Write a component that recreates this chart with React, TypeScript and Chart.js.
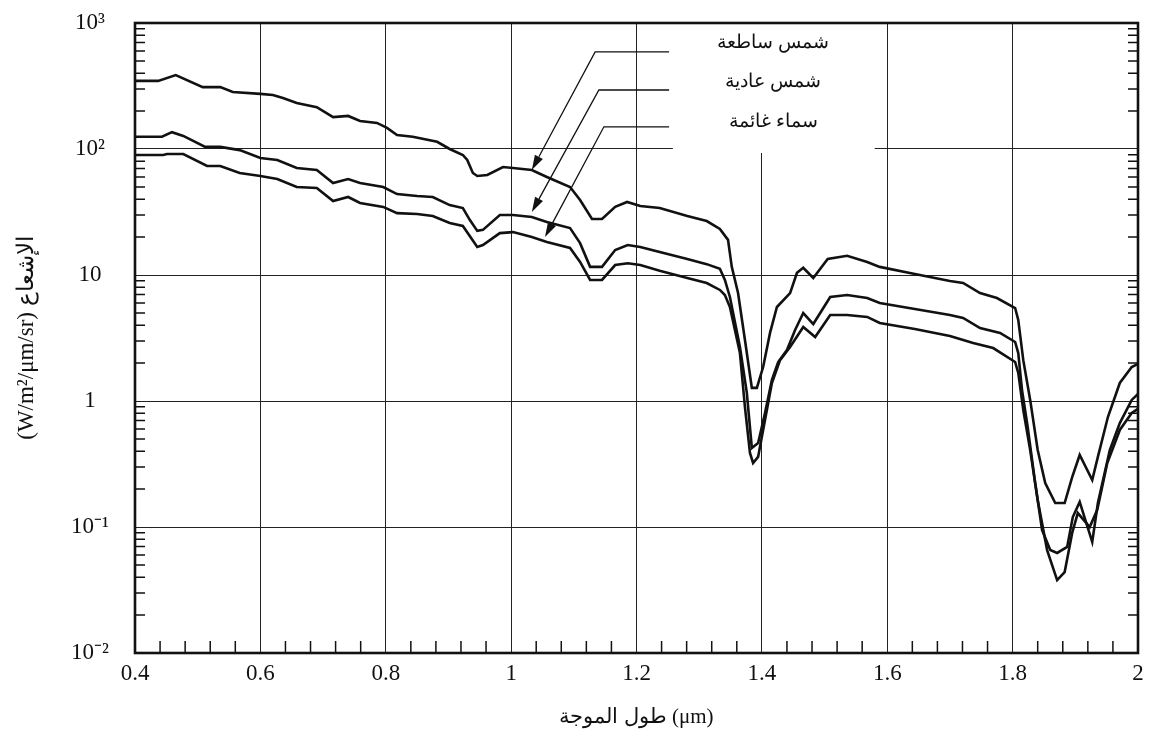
import React, { useEffect, useRef } from "react";
import { Chart, registerables } from "chart.js";

Chart.register(...registerables);

// ---- data (wavelength in µm, radiance in W/m²/µm/sr) ----
const brightX = [0.400,0.437,0.465,0.508,0.536,0.556,0.600,0.620,0.636,0.658,0.690,0.716,0.740,0.759,0.786,0.802,0.818,0.843,0.882,0.902,0.923,0.930,0.939,0.946,0.962,0.987,1.003,1.033,1.057,1.094,1.110,1.129,1.145,1.166,1.185,1.206,1.237,1.281,1.312,1.333,1.346,1.352,1.362,1.373,1.384,1.392,1.402,1.413,1.424,1.445,1.456,1.466,1.482,1.505,1.536,1.568,1.588,1.644,1.700,1.721,1.748,1.775,1.804,1.809,1.817,1.828,1.840,1.852,1.868,1.883,1.895,1.907,1.927,1.936,1.952,1.971,1.990,2.000];
const brightY = [347,347,386,310,310,283,274,268,254,232,215,179,183,167,161,147,129,125,114,100,89.6,81.9,64.5,61.1,62.2,72.0,70.6,68.1,60,49.9,39.4,27.8,27.8,34.7,38.0,35.3,34.0,29.4,26.8,23.2,19.0,11.6,7.19,3.05,1.27,1.27,1.86,3.47,5.57,7.19,10.4,11.4,9.47,13.4,14.2,12.7,11.6,10.2,8.96,8.64,7.19,6.57,5.47,4.40,2.11,1.02,0.408,0.223,0.155,0.155,0.249,0.373,0.236,0.360,0.746,1.39,1.86,1.97];

const normalX = [0.400,0.443,0.459,0.477,0.512,0.536,0.567,0.600,0.627,0.658,0.690,0.716,0.740,0.759,0.796,0.818,0.850,0.875,0.902,0.923,0.934,0.946,0.955,0.982,1.003,1.033,1.057,1.094,1.110,1.126,1.145,1.166,1.186,1.206,1.237,1.281,1.312,1.333,1.341,1.349,1.365,1.376,1.384,1.394,1.405,1.416,1.426,1.440,1.453,1.466,1.482,1.509,1.536,1.568,1.588,1.644,1.700,1.721,1.748,1.780,1.804,1.809,1.815,1.824,1.836,1.847,1.860,1.871,1.887,1.896,1.907,1.927,1.936,1.955,1.971,1.990,2.000];
const normalY = [125,125,136,127,104,104,98,84.9,81.9,70.7,68.1,53.7,57.8,53.7,49.9,43.9,42.4,41.6,35.9,34.0,27.4,22.4,22.8,29.9,29.9,28.9,26.3,23.6,17.9,11.6,11.6,15.8,17.3,16.7,15.2,13.4,12.2,11.2,9.13,6.69,2.68,1.16,0.424,0.464,0.803,1.47,2.04,2.54,3.66,4.99,4.08,6.69,6.93,6.57,5.99,5.37,4.82,4.56,3.79,3.47,2.94,2.40,1.22,0.622,0.223,0.0946,0.0656,0.0622,0.0694,0.120,0.158,0.0760,0.155,0.408,0.668,1.02,1.14];

const cloudyX = [0.400,0.445,0.451,0.477,0.515,0.536,0.567,0.600,0.627,0.658,0.690,0.716,0.740,0.759,0.796,0.818,0.850,0.875,0.902,0.923,0.934,0.946,0.955,0.982,1.003,1.033,1.057,1.094,1.110,1.126,1.145,1.166,1.186,1.206,1.237,1.281,1.312,1.333,1.341,1.349,1.365,1.373,1.381,1.386,1.394,1.405,1.416,1.429,1.445,1.466,1.485,1.509,1.536,1.568,1.588,1.644,1.700,1.737,1.769,1.804,1.809,1.817,1.828,1.840,1.855,1.871,1.883,1.895,1.904,1.923,1.935,1.951,1.971,1.990,2.000];
const cloudyY = [89.6,89.6,91.2,91.2,73.3,73.3,64.5,61.1,57.8,49.9,49.0,38.6,41.6,37.3,34.7,31.0,30.5,29.4,25.9,24.5,20.4,16.7,17.3,21.5,21.9,20.0,18.3,16.4,12.7,9.13,9.13,12.0,12.4,12.0,10.8,9.47,8.64,7.61,6.93,5.57,2.40,0.896,0.387,0.322,0.360,0.706,1.39,2.11,2.68,3.87,3.22,4.82,4.82,4.65,4.16,3.73,3.28,2.88,2.63,2.04,1.67,0.849,0.408,0.164,0.0656,0.0379,0.0439,0.0896,0.129,0.100,0.137,0.322,0.589,0.803,0.865];

const seriesNames = ["شمس ساطعة", "شمس عادية", "سماء غائمة"];

// ---- axes ----
const xTicks = [0.4, 0.6, 0.8, 1.0, 1.2, 1.4, 1.6, 1.8, 2.0];
const xTickLabels = ["0.4", "0.6", "0.8", "1", "1.2", "1.4", "1.6", "1.8", "2"];
const yTicks = [0.01, 0.1, 1, 10, 100, 1000];
const yTickLabels = ["10⁻²", "10⁻¹", "1", "10", "10²", "10³"];
const xTitle = "طول الموجة (μm)";
const yTitle = "(W/m²/μm/sr) الإشعاع";

// ---- annotation (in data units) ----
const leaderStartX = [1.252, 1.252, 1.252];
const leaderBendX = [1.134, 1.140, 1.148];
const leaderY = [589, 294, 150];
const arrowTipX = [1.033, 1.033, 1.054];
const arrowTipY = [68.1, 31.6, 20.0];
const labelX = 1.418;
const labelY = [693, 340, 164];
const legendBoxX = [1.258, 1.580];
const legendBoxBottom = 93;

const SERIF = '"Liberation Serif", "Times New Roman", serif';
const INK = "#111";

const decorPlugin = {
  id: "decor",
  beforeDatasetsDraw(chart: any) {
    const { ctx, scales, chartArea } = chart;
    const x = scales.x, y = scales.y;
    const x0 = x.getPixelForValue(legendBoxX[0]);
    const x1 = x.getPixelForValue(legendBoxX[1]);
    const y1 = y.getPixelForValue(legendBoxBottom);
    ctx.save();
    ctx.fillStyle = "#fff";
    ctx.fillRect(x0, chartArea.top, x1 - x0, y1 - chartArea.top);
    ctx.restore();
  },
  afterDatasetsDraw(chart: any) {
    const { ctx, scales, chartArea } = chart;
    const x = scales.x, y = scales.y;
    ctx.save();
    ctx.strokeStyle = INK;
    ctx.fillStyle = INK;
    for (let i = 0; i < 3; i++) {
      const sx = x.getPixelForValue(leaderStartX[i]);
      const bx = x.getPixelForValue(leaderBendX[i]);
      const ly = y.getPixelForValue(leaderY[i]);
      const tx = x.getPixelForValue(arrowTipX[i]);
      const ty = y.getPixelForValue(arrowTipY[i]);
      const ang = Math.atan2(ty - ly, tx - bx);
      const L = 15, W = 4.5;
      const baseX = tx - L * Math.cos(ang);
      const baseY = ty - L * Math.sin(ang);
      ctx.lineWidth = 1.3;
      ctx.beginPath();
      ctx.moveTo(sx, ly);
      ctx.lineTo(bx, ly);
      ctx.lineTo(baseX, baseY);
      ctx.stroke();
      ctx.beginPath();
      ctx.moveTo(tx, ty);
      ctx.lineTo(baseX + W * Math.sin(ang), baseY - W * Math.cos(ang));
      ctx.lineTo(baseX - W * Math.sin(ang), baseY + W * Math.cos(ang));
      ctx.closePath();
      ctx.fill();
      ctx.font = `19px ${SERIF}`;
      ctx.textAlign = "center";
      ctx.textBaseline = "middle";
      ctx.fillText(seriesNames[i], x.getPixelForValue(labelX), y.getPixelForValue(labelY[i]));
    }
    // minor ticks
    ctx.lineWidth = 1.5;
    ctx.beginPath();
    for (let k = -2; k < 3; k++) {
      for (let m = 2; m < 10; m++) {
        const py = y.getPixelForValue(m * Math.pow(10, k));
        ctx.moveTo(chartArea.left, py);
        ctx.lineTo(chartArea.left + 10, py);
        ctx.moveTo(chartArea.right, py);
        ctx.lineTo(chartArea.right - 10, py);
      }
    }
    for (let j = 0; j <= 40; j++) {
      if (j % 5 === 0) continue;
      const px = x.getPixelForValue(0.4 + j * 0.04);
      ctx.moveTo(px, chartArea.bottom);
      ctx.lineTo(px, chartArea.bottom - 12);
    }
    ctx.stroke();
    // frame
    ctx.lineWidth = 2.6;
    ctx.strokeRect(chartArea.left, chartArea.top, chartArea.right - chartArea.left, chartArea.bottom - chartArea.top);
    ctx.restore();
  },
};

export default function App() {
  const ref = useRef<HTMLCanvasElement | null>(null);
  useEffect(() => {
    document.body.style.margin = "0";
    const mk = (xs: number[], ys: number[]) => xs.map((v, i) => ({ x: v, y: ys[i] }));
    const line = (label: string, data: any) => ({
      label,
      data,
      borderColor: INK,
      borderWidth: 2.6,
      pointRadius: 0,
      tension: 0,
      fill: false,
    });
    const chart = new Chart(ref.current as HTMLCanvasElement, {
      type: "line",
      data: {
        datasets: [
          line(seriesNames[0], mk(brightX, brightY)),
          line(seriesNames[1], mk(normalX, normalY)),
          line(seriesNames[2], mk(cloudyX, cloudyY)),
        ],
      },
      options: {
        animation: false,
        responsive: false,
        devicePixelRatio: 1,
        layout: { padding: { left: 0, right: 15, top: 23, bottom: 0 } },
        plugins: { legend: { display: false }, tooltip: { enabled: false } },
        scales: {
          x: {
            type: "linear",
            min: 0.4,
            max: 2.0,
            afterBuildTicks: (s: any) => {
              s.ticks = xTicks.map((v) => ({ value: v }));
            },
            afterFit: (s: any) => {
              s.height = 87;
              s.paddingLeft = 0;
              s.paddingRight = 0;
            },
            ticks: {
              autoSkip: false,
              maxRotation: 0,
              padding: 7,
              color: INK,
              font: { family: SERIF, size: 23 },
              callback: (_v: any, i: number) => xTickLabels[i],
            },
            grid: { color: "#222", lineWidth: 1, drawTicks: false },
            border: { display: false },
            title: {
              display: true,
              text: xTitle,
              color: INK,
              font: { family: SERIF, size: 21 },
              padding: { top: 0, bottom: 10 },
            },
          },
          y: {
            type: "logarithmic",
            min: 0.01,
            max: 1000,
            afterBuildTicks: (s: any) => {
              s.ticks = yTicks.map((v) => ({ value: v }));
            },
            afterFit: (s: any) => {
              s.width = 135;
              s.paddingTop = 0;
              s.paddingBottom = 0;
            },
            ticks: {
              autoSkip: false,
              padding: 26,
              crossAlign: "center",
              color: INK,
              font: { family: SERIF, size: 23 },
              callback: (_v: any, i: number) => yTickLabels[i],
            },
            grid: { color: "#222", lineWidth: 1, drawTicks: false },
            border: { display: false },
            title: {
              display: true,
              text: yTitle,
              color: INK,
              font: { family: SERIF, size: 23 },
              padding: { top: 13, bottom: 0 },
            },
          },
        },
      } as any,
      plugins: [decorPlugin],
    });
    return () => chart.destroy();
  }, []);
  return (
    <div style={{ width: 1153, height: 740, background: "#fff" }}>
      <canvas ref={ref} width={1153} height={740} style={{ display: "block" }} />
    </div>
  );
}
